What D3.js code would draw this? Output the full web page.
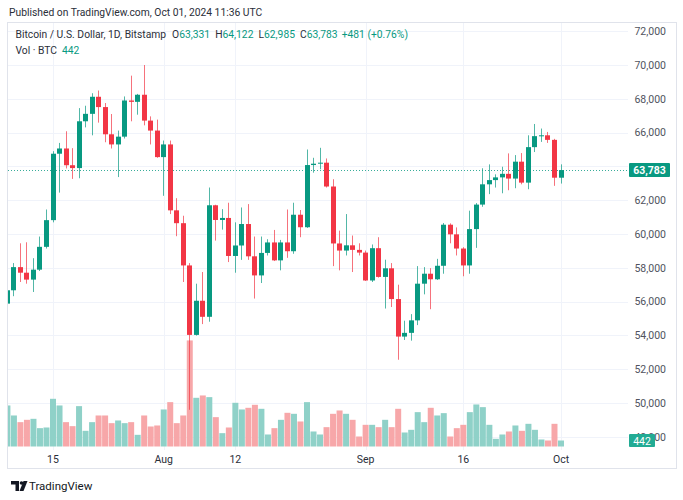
<!doctype html>
<html>
<head>
  <meta charset="utf-8">
  <title>BTCUSD 1D</title>
  <style>
    body { margin: 0; background: #fff; }
    svg { display: block; font-family: Roboto, "Noto Sans", sans-serif; }
  </style>
</head>
<body>
  <div id="chart"></div>
  <script src="https://cdn.jsdelivr.net/npm/d3@7"></script>
  <script>
    // daily candles, 2024-07-08 .. 2024-10-01
    const startDate = '2024-07-08';
    const opens = [55880, 56670, 58040, 57710, 57300, 57890, 59240, 60820, 64750, 65060, 64070, 63900, 66670, 67110,
      68120, 67510, 65900, 65300, 65760, 67900, 67820, 68240, 66710, 66120, 64550, 65300, 61400, 60640,
      58140, 54030, 56050, 55100, 61700, 60830, 60950, 58700, 59320, 60590, 58680, 57550, 58880, 59500,
      58440, 59500, 58980, 61140, 60400, 64080, 64160, 64220, 62810, 59440, 59020, 59330, 59060, 58900,
      57250, 59160, 57460, 57970, 56150, 53930, 54150, 54890, 57060, 57650, 57320, 58120, 60550, 59980,
      59140, 58140, 60290, 61740, 62940, 63190, 63350, 63560, 63280, 64280, 63040, 65140, 65790, 65840,
      65570, 63331];
    const highs = [58200, 58280, 59450, 59510, 58570, 59850, 61450, 64900, 65390, 66080, 65080, 67450, 67590, 68330,
      68490, 67750, 67100, 66120, 68140, 69370, 68290, 70000, 66960, 66770, 65530, 65530, 62120, 61080,
      58280, 57060, 57750, 62750, 61730, 61470, 61850, 60690, 61570, 61770, 59850, 59850, 59690, 60240,
      59650, 61450, 61850, 61420, 65000, 64510, 65100, 64470, 63240, 60200, 61180, 59910, 59450, 59020,
      59380, 59810, 58480, 58280, 57000, 54870, 55260, 58100, 58040, 57980, 58530, 60650, 60630, 60390,
      59220, 61380, 61830, 63890, 64120, 63530, 63980, 64770, 64670, 64790, 65840, 66510, 66240, 66040,
      65630, 64122];
    const lows = [54300, 56320, 57160, 57060, 56570, 57810, 59140, 60690, 62450, 63880, 63260, 63300, 66310, 65840,
      66590, 65430, 65060, 63370, 65650, 66670, 67060, 66430, 65300, 64510, 62260, 61180, 59870, 57160,
      49600, 53990, 54670, 54810, 59610, 60260, 58340, 57710, 58470, 58470, 56180, 57100, 58730, 58400,
      57850, 58590, 58830, 59810, 60360, 63630, 63830, 62750, 58100, 57850, 58730, 57750, 58730, 57220,
      57160, 57420, 55590, 55680, 52560, 53730, 53690, 54610, 56430, 55550, 57280, 57650, 59450, 58730,
      57500, 57650, 59180, 61610, 62360, 62750, 62410, 62590, 62710, 62940, 62650, 64850, 65450, 65390,
      62850, 62985];
    const closes = [56670, 58040, 57710, 57300, 57890, 59240, 60820, 64750, 65060, 64070, 63900, 66670, 67110, 68120,
      67510, 65900, 65300, 65760, 67900, 67820, 68240, 66710, 66120, 64550, 65300, 61400, 60640, 58140,
      54030, 56050, 55100, 61700, 60830, 60950, 58700, 59320, 60590, 58680, 57550, 58880, 59500, 58440,
      59500, 58980, 61140, 60400, 64080, 64160, 64220, 62810, 59440, 59020, 59330, 59060, 58900, 57250,
      59160, 57460, 57970, 56150, 53930, 54150, 54890, 57060, 57650, 57320, 58120, 60550, 59980, 59140,
      58140, 60290, 61740, 62940, 63190, 63350, 63560, 63280, 64280, 63040, 65140, 65790, 65840, 65570,
      63331, 63783];
    const volumes = [3026, 2288, 1796, 1968, 2042, 1353, 1402, 3518, 3026, 1796, 1501, 2977, 1156, 1796,
      2288, 2288, 1722, 1919, 1722, 1796, 861, 2288, 1476, 1550, 2731, 3272, 1722, 2288,
      7823, 3592, 3764, 3641, 2165, 984, 1402, 3223, 2731, 2854, 3075, 2780, 886, 1353,
      1968, 2485, 2411, 1845, 3272, 1107, 886, 1427, 2411, 2657, 2411, 1968, 738, 1599,
      1599, 1427, 1968, 1427, 2780, 1033, 1230, 2534, 1796, 2854, 2288, 2460, 738, 1353,
      1599, 2534, 3100, 2903, 1599, 566, 886, 1107, 1550, 1156, 1673, 1230, 517, 443,
      1673, 442];

    const priceTicks = [72000, 70000, 68000, 66000, 64000, 62000, 60000, 58000, 56000, 54000, 52000, 50000, 48000];
    const timeTickDates = ['2024-07-15', '2024-08-01', '2024-08-12', '2024-09-01', '2024-09-16', '2024-10-01'];
    const timeTickLabels = ['15', 'Aug', '12', 'Sep', '16', 'Oct'];

    const lastPrice = 63783;
    const lastVolume = 442;

    const W = 683, H = 500;
    const up = '#089981', down = '#f23645';
    const upVol = '#8fd1c8', downVol = '#f7a7a9';
    const grid = '#f0f3fa';

    const parse = d3.utcParse('%Y-%m-%d');
    const day0 = parse(startDate);
    const candles = opens.map((o, i) => ({
      date: d3.utcDay.offset(day0, i),
      o, h: highs[i], l: lows[i], c: closes[i], v: volumes[i]
    }));

    const svg = d3.select('#chart').append('svg').attr('width', W).attr('height', H);

    const plot = { left: 8, right: 628, top: 23, bottom: 450 };

    const x = d3.scaleUtc()
      .domain([parse('2024-07-15'), parse('2024-10-01')])
      .range([53, 561]);
    const y = d3.scaleLinear().domain([48000, 72000]).range([436.8, 31.2]);
    const volBase = 446.5;
    const yv = d3.scaleLinear().domain([0, 8850]).range([volBase, volBase - 120]);

    // header
    svg.append('text').attr('x', 9).attr('y', 16)
      .attr('font-size', 10.3).attr('fill', '#2a2e39')
      .text('Published on TradingView.com, Oct 01, 2024 11:36 UTC');

    // frame
    svg.append('rect').attr('x', 7.5).attr('y', 22.5).attr('width', 669).attr('height', 446)
      .attr('fill', 'none').attr('stroke', '#e0e3eb');

    svg.append('defs').append('clipPath').attr('id', 'clip')
      .append('rect').attr('x', plot.left).attr('y', plot.top)
      .attr('width', plot.right - plot.left).attr('height', plot.bottom - plot.top);

    // grid
    svg.append('g').selectAll('line').data(priceTicks).join('line')
      .attr('x1', plot.left).attr('x2', plot.right)
      .attr('y1', d => Math.round(y(d)) + 0.5).attr('y2', d => Math.round(y(d)) + 0.5)
      .attr('stroke', grid);
    svg.append('g').selectAll('line').data(timeTickDates).join('line')
      .attr('x1', d => Math.round(x(parse(d))) + 0.5).attr('x2', d => Math.round(x(parse(d))) + 0.5)
      .attr('y1', plot.top).attr('y2', plot.bottom)
      .attr('stroke', grid);

    const g = svg.append('g').attr('clip-path', 'url(#clip)');

    // volume
    g.append('g').selectAll('rect').data(candles).join('rect')
      .attr('x', d => x(d.date) - 3)
      .attr('width', 6)
      .attr('y', d => yv(d.v))
      .attr('height', d => volBase - yv(d.v))
      .attr('fill', d => d.c >= d.o ? upVol : downVol);

    // last price line
    g.append('line')
      .attr('x1', plot.left).attr('x2', plot.right)
      .attr('y1', Math.round(y(lastPrice)) + 0.5).attr('y2', Math.round(y(lastPrice)) + 0.5)
      .attr('stroke', up).attr('stroke-dasharray', '1,2').attr('opacity', 0.8);

    // candles
    const cg = g.append('g').selectAll('g').data(candles).join('g');
    cg.append('rect')
      .attr('x', d => Math.round(x(d.date) - 2.5) + 2)
      .attr('width', 1)
      .attr('y', d => y(d.h))
      .attr('height', d => y(d.l) - y(d.h))
      .attr('fill', d => d.c >= d.o ? up : down)
      .attr('opacity', 0.7);
    cg.append('rect')
      .attr('x', d => Math.round(x(d.date) - 2.5))
      .attr('width', 5)
      .attr('y', d => y(Math.max(d.o, d.c)))
      .attr('height', d => Math.max(1, Math.abs(y(d.o) - y(d.c))))
      .attr('fill', d => d.c >= d.o ? up : down);

    // price axis labels (the one under the last-price badge is hidden, as on the chart)
    const fmt = d3.format(',');
    const py = Math.round(y(lastPrice));
    svg.append('g').selectAll('text')
      .data(priceTicks.filter(d => Math.abs(y(d) - py) > 9))
      .join('text')
      .attr('x', 666).attr('y', d => y(d) + 3.7)
      .attr('text-anchor', 'end').attr('font-size', 10.5).attr('fill', '#50535e')
      .text(d => fmt(d));

    // time axis labels
    svg.append('g').selectAll('text').data(timeTickDates).join('text')
      .attr('x', d => x(parse(d))).attr('y', 463)
      .attr('text-anchor', 'middle').attr('font-size', 10.5).attr('fill', '#2a2e39')
      .text((d, i) => timeTickLabels[i]);

    // price badge
    svg.append('rect').attr('x', 629).attr('y', py - 7).attr('width', 41).attr('height', 14)
      .attr('rx', 1).attr('fill', up);
    svg.append('text').attr('x', 649.5).attr('y', py + 4)
      .attr('text-anchor', 'middle').attr('font-size', 10.5).attr('font-weight', 'bold')
      .attr('fill', '#fff').text(fmt(lastPrice));

    // volume badge
    const vy = Math.round(yv(lastVolume));
    svg.append('rect').attr('x', 629).attr('y', vy - 7).attr('width', 26).attr('height', 13)
      .attr('rx', 1).attr('fill', '#22ab94');
    svg.append('text').attr('x', 642).attr('y', vy + 3.5)
      .attr('text-anchor', 'middle').attr('font-size', 10.5)
      .attr('fill', '#fff').text(lastVolume);

    // legend
    const legend = svg.append('text').attr('x', 15.5).attr('y', 38).attr('font-size', 10.3).attr('fill', '#2a2e39');
    legend.append('tspan').text('Bitcoin / U.S. Dollar, 1D, Bitstamp');
    const ohlc = [['O', 63331], ['H', 64122], ['L', 62985], ['C', 63783]];
    ohlc.forEach(([k, v], i) => {
      legend.append('tspan').attr('dx', i === 0 ? 6 : 5).text(k);
      legend.append('tspan').attr('fill', up).text(fmt(v));
    });
    legend.append('tspan').attr('dx', 4).attr('fill', up).text('+481 (+0.76%)');

    const vl = svg.append('text').attr('x', 15.5).attr('y', 54).attr('font-size', 10.3).attr('fill', '#2a2e39');
    vl.append('tspan').text('Vol · BTC');
    vl.append('tspan').attr('dx', 5).attr('fill', up).text(lastVolume);

    // footer logo
    const logo = svg.append('g').attr('fill', '#131722');
    logo.append('path').attr('d', 'M11,481 h8 v10 h-3.5 v-6.5 h-4.5 z');
    logo.append('circle').attr('cx', 21.5).attr('cy', 483).attr('r', 1.8);
    logo.append('path').attr('d', 'M23.5,481 h4 l-4,10 h-4 z');
    svg.append('text').attr('x', 29).attr('y', 490).attr('font-size', 11.5).attr('fill', '#131722')
      .text('TradingView');
  </script>
</body>
</html>
